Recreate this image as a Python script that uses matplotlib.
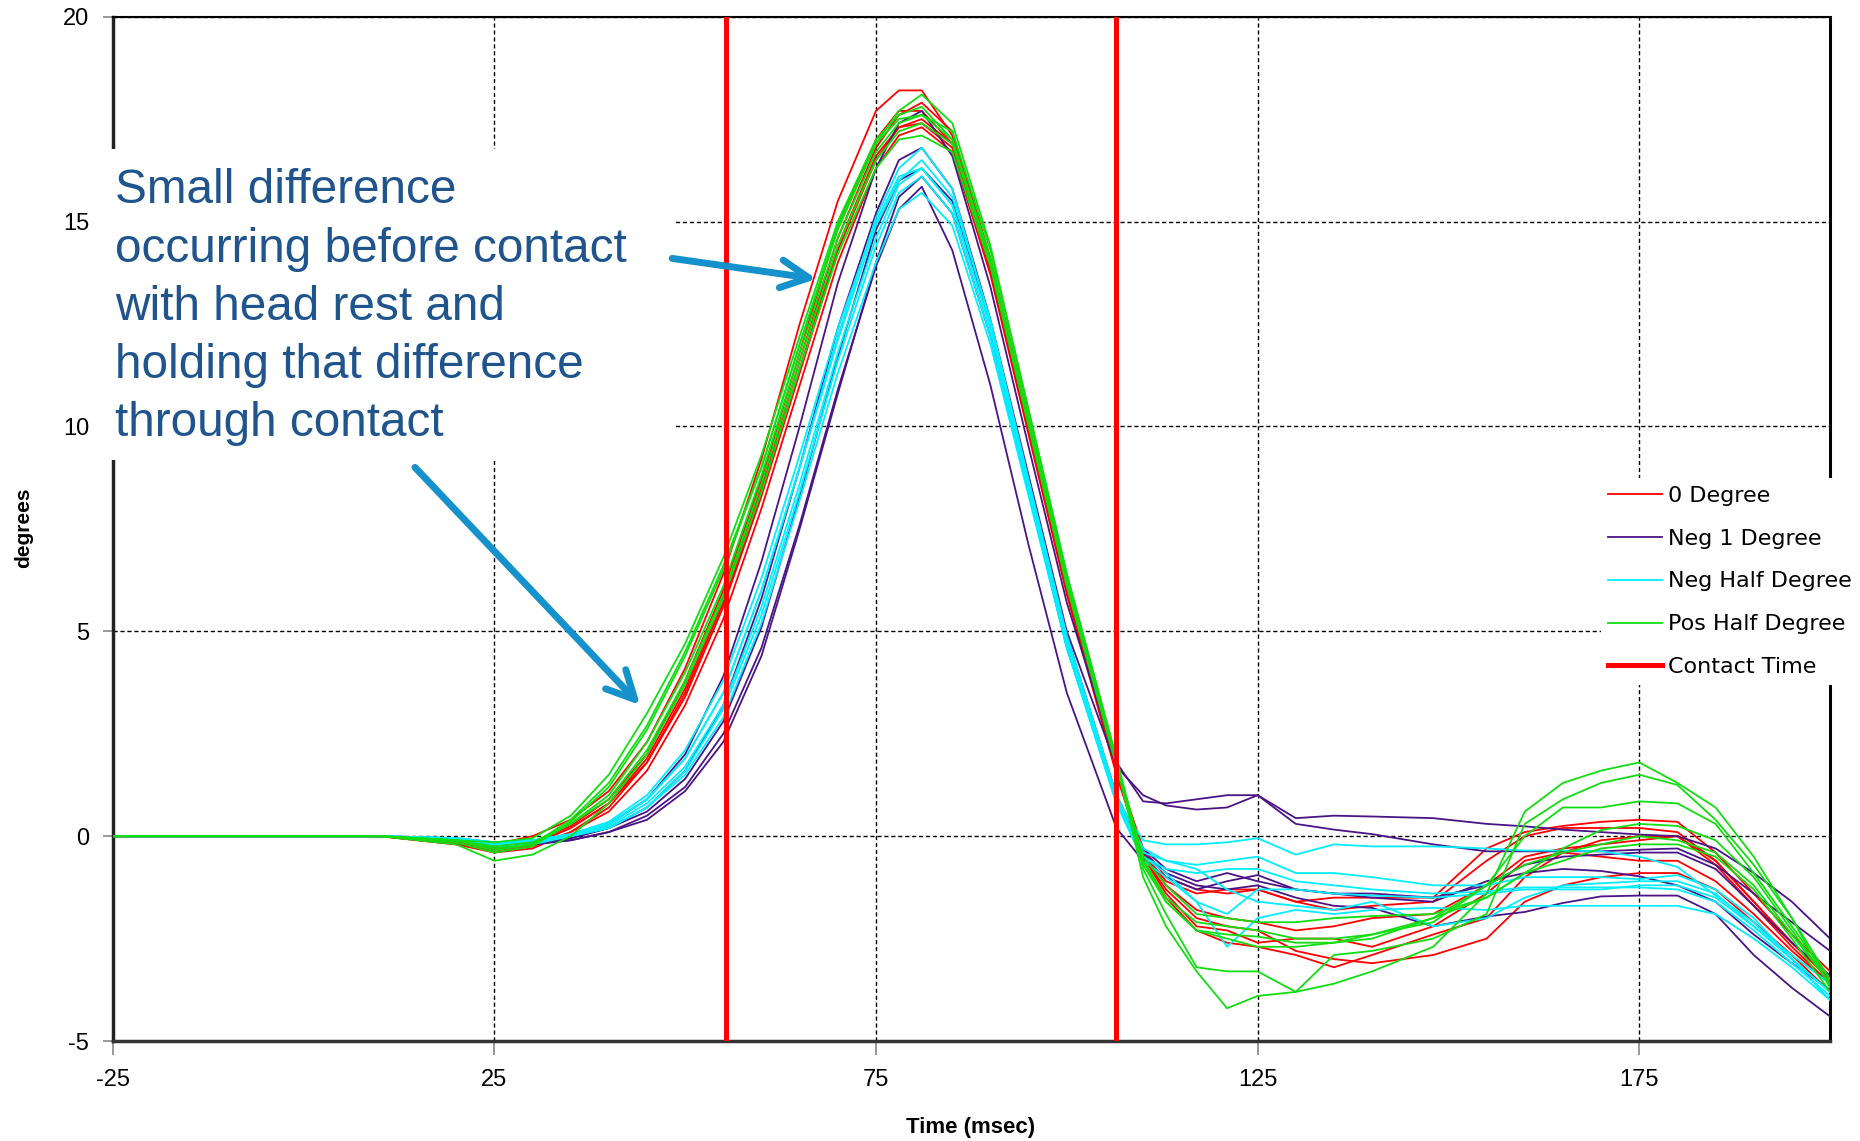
import matplotlib
matplotlib.use("Agg")
import matplotlib.pyplot as plt
from matplotlib.patches import Rectangle

plt.rcParams["axes.unicode_minus"] = False

# sample times (msec) shared by every run
time_ms = [-25, 10, 20, 25, 30, 35, 40, 45, 50, 55, 60, 65, 70, 75, 78, 81, 85, 90, 95, 100,
           106.5, 110, 113, 117, 121, 125, 130, 135, 140, 148, 155, 160, 165, 170, 175, 180,
           185, 190, 195, 200]

# head rotation (degrees) per run, grouped by seat angle
zero_deg = [
    [0, 0, -0.1, -0.2, 0.0, 0.4, 1.1, 2.3, 4.1, 6.4, 9.2, 12.5, 15.5, 17.7, 18.2, 18.2, 17.1, 13.9, 9.9, 6.0, 1.6,
     -0.3, -1.0, -1.3, -1.4, -1.3, -1.6, -1.5, -1.5, -1.5, -0.3, 0.1, 0.25, 0.35, 0.4, 0.35, -0.4, -1.4, -2.4, -3.3],
    [0, 0, -0.15, -0.3, -0.2, 0.2, 0.8, 1.9, 3.6, 5.8, 8.5, 11.6, 14.6, 16.8, 17.6, 17.9, 17.2, 14.1, 10.2, 6.2, 1.7,
     -0.4, -1.1, -1.4, -1.3, -1.3, -1.6, -1.8, -1.7, -1.6, -0.6, 0.0, 0.2, 0.2, 0.2, 0.1, -0.6, -1.6, -2.6, -3.5],
    [0, 0, -0.2, -0.35, -0.25, 0.1, 0.7, 1.8, 3.4, 5.6, 8.3, 11.3, 14.3, 16.5, 17.3, 17.5, 16.9, 13.9, 10.0, 6.1, 1.6,
     -0.6, -1.5, -2.3, -2.6, -2.7, -2.9, -3.2, -2.9, -2.4, -2.0, -1.0, -0.4, -0.1, 0.0, 0.0, -0.7, -1.7, -2.7, -3.6],
    [0, 0, -0.2, -0.4, -0.3, 0.1, 0.6, 1.6, 3.2, 5.3, 8.0, 11.0, 14.0, 16.3, 17.1, 17.3, 16.7, 13.7, 9.8, 5.9, 1.5,
     -0.5, -1.3, -2.0, -2.2, -2.3, -2.8, -3.0, -3.1, -2.9, -2.5, -1.6, -1.2, -1.0, -0.9, -0.9, -1.3, -2.1, -2.9, -3.8],
    [0, 0, -0.1, -0.25, -0.15, 0.25, 0.9, 2.0, 3.8, 6.0, 8.7, 11.8, 14.9, 17.0, 17.7, 17.7, 16.9, 13.8, 9.9, 6.0, 1.6,
     -0.4, -1.2, -1.8, -2.0, -2.1, -2.3, -2.2, -2.0, -1.9, -1.2, -0.5, -0.3, -0.2, -0.1, 0.0, -0.6, -1.6, -2.6, -3.5],
    [0, 0, -0.15, -0.3, -0.2, 0.2, 0.8, 1.8, 3.5, 5.7, 8.4, 11.4, 14.4, 16.6, 17.3, 17.4, 16.8, 13.9, 10.0, 6.1, 1.7,
     -0.5, -1.4, -2.2, -2.3, -2.6, -2.5, -2.5, -2.7, -2.2, -1.4, -0.6, -0.4, -0.5, -0.6, -0.6, -1.1, -1.9, -2.8, -3.6],
]

neg_one_deg = [
    [0, 0, -0.1, -0.2, -0.2, 0.0, 0.3, 0.9, 2.0, 3.9, 6.7, 10.0, 13.5, 16.3, 17.4, 17.7, 16.6, 13.4, 9.5, 5.7, 1.8,
     0.85, 0.8, 0.9, 1.0, 1.0, 0.44, 0.5, 0.48, 0.44, 0.3, 0.24, 0.16, 0.1, 0.04, 0.0, -0.3, -0.9, -1.6, -2.5],
    [0, 0, -0.1, -0.25, -0.2, -0.05, 0.2, 0.7, 1.6, 3.2, 5.8, 9.0, 12.4, 15.2, 16.5, 16.8, 15.8, 12.6, 8.8, 5.0, 1.7,
     1.0, 0.75, 0.65, 0.7, 1.0, 0.3, 0.16, 0.05, -0.2, -0.37, -0.37, -0.37, -0.37, -0.33, -0.3, -0.7, -1.4, -2.1, -2.8],
    [0, 0, -0.1, -0.2, -0.2, -0.1, 0.1, 0.5, 1.2, 2.5, 4.6, 7.6, 10.9, 13.9, 15.3, 15.85, 14.3, 11.0, 7.1, 3.5, 0.2,
     -0.6, -1.0, -1.3, -1.1, -0.95, -1.3, -1.4, -1.5, -1.6, -1.1, -0.9, -0.8, -0.85, -0.98, -1.2, -1.6, -2.4, -3.1, -3.75],
    [0, 0, -0.1, -0.2, -0.2, -0.1, 0.1, 0.4, 1.1, 2.3, 4.4, 7.5, 10.8, 14.0, 15.6, 16.1, 15.2, 12.2, 8.4, 4.6, 0.9,
     -0.4, -0.9, -1.2, -1.3, -1.2, -1.5, -1.7, -1.75, -2.2, -1.96, -1.85, -1.63, -1.47, -1.45, -1.45, -1.9, -2.9, -3.7, -4.4],
    [0, 0, -0.05, -0.15, -0.15, -0.05, 0.2, 0.6, 1.4, 2.8, 5.1, 8.3, 11.7, 14.8, 16.0, 16.3, 15.5, 12.5, 8.7, 4.9, 1.0,
     -0.3, -0.8, -1.1, -0.9, -1.1, -1.3, -1.4, -1.4, -1.5, -1.2, -0.7, -0.5, -0.45, -0.4, -0.4, -0.8, -1.7, -2.6, -3.4],
]

neg_half_deg = [
    [0, 0, -0.05, -0.15, -0.1, 0.05, 0.3, 0.9, 1.9, 3.5, 6.0, 9.0, 12.2, 15.1, 16.3, 16.8, 15.8, 12.5, 8.6, 4.7, 0.9,
     -0.1, -0.2, -0.2, -0.15, -0.05, -0.45, -0.2, -0.25, -0.25, -0.3, -0.35, -0.35, -0.37, -0.5, -0.75, -1.45, -2.1, -3.0, -3.8],
    [0, 0, -0.05, -0.2, -0.15, 0.0, 0.25, 0.8, 1.7, 3.2, 5.6, 8.6, 11.8, 14.6, 15.9, 16.3, 15.4, 12.4, 8.6, 4.8, 0.9,
     -0.4, -0.6, -0.7, -0.6, -0.5, -0.9, -0.9, -1.0, -1.2, -1.2, -1.0, -1.0, -1.0, -1.05, -0.95, -1.3, -2.0, -3.0, -4.0],
    [0, 0, -0.1, -0.2, -0.15, 0.0, 0.2, 0.7, 1.6, 3.1, 5.4, 8.4, 11.6, 14.4, 15.7, 16.1, 15.2, 12.2, 8.4, 4.6, 0.8,
     -0.5, -0.8, -0.9, -0.8, -0.8, -1.1, -1.2, -1.3, -1.4, -1.35, -1.25, -1.25, -1.25, -1.25, -1.3, -1.6, -2.3, -3.1, -3.9],
    [0, 0, -0.05, -0.15, -0.1, 0.0, 0.2, 0.7, 1.5, 2.9, 5.2, 8.2, 11.3, 14.0, 15.3, 15.7, 14.9, 12.0, 8.3, 4.6, 0.8,
     -0.6, -1.0, -1.6, -2.7, -2.0, -1.8, -1.9, -1.8, -1.75, -1.8, -1.7, -1.7, -1.7, -1.7, -1.7, -1.9, -2.5, -3.2, -4.0],
    [0, 0, -0.1, -0.25, -0.2, 0.0, 0.3, 0.9, 1.9, 3.5, 6.0, 9.0, 12.1, 14.9, 16.0, 16.5, 15.6, 12.6, 8.7, 4.9, 1.0,
     -0.3, -0.6, -0.8, -1.3, -1.6, -1.7, -1.8, -1.6, -2.2, -2.0, -1.5, -1.2, -1.15, -1.1, -1.1, -1.4, -2.2, -3.0, -3.8],
    [0, 0, -0.05, -0.15, -0.1, 0.05, 0.35, 1.0, 2.1, 3.8, 6.3, 9.3, 12.4, 15.0, 16.1, 16.3, 15.4, 12.4, 8.5, 4.7, 0.9,
     -0.5, -0.9, -1.6, -1.9, -1.3, -1.3, -1.4, -1.45, -1.5, -1.4, -1.3, -1.3, -1.3, -1.2, -1.2, -1.5, -2.2, -2.9, -3.6],
]

pos_half_deg = [
    [0, 0, -0.1, -0.15, -0.05, 0.5, 1.5, 3.0, 4.7, 6.8, 9.3, 12.2, 15.0, 17.0, 17.6, 17.8, 17.0, 14.0, 10.1, 6.2, 1.8,
     -1.0, -2.2, -3.3, -4.2, -3.9, -3.8, -3.6, -3.3, -2.7, -1.4, 0.6, 1.3, 1.6, 1.8, 1.3, 0.7, -0.5, -2.0, -3.7],
    [0, 0, -0.15, -0.4, -0.25, 0.35, 1.2, 2.6, 4.4, 6.5, 9.0, 12.0, 14.8, 16.9, 17.7, 18.1, 17.4, 14.4, 10.4, 6.4, 1.9,
     -0.8, -1.9, -3.2, -3.3, -3.3, -3.8, -2.9, -2.8, -2.5, -1.9, 0.3, 0.9, 1.3, 1.5, 1.25, 0.4, -0.7, -2.0, -3.5],
    [0, 0, -0.1, -0.3, -0.2, 0.3, 1.0, 2.3, 4.0, 6.1, 8.8, 11.8, 14.6, 16.7, 17.4, 17.6, 17.0, 14.1, 10.2, 6.3, 1.8,
     -0.6, -1.5, -2.1, -2.2, -2.3, -2.5, -2.5, -2.4, -2.1, -1.2, 0.0, 0.7, 0.7, 0.85, 0.8, 0.3, -0.9, -2.2, -3.5],
    [0, 0, -0.1, -0.25, -0.15, 0.3, 0.9, 2.1, 3.8, 5.9, 8.6, 11.6, 14.4, 16.5, 17.2, 17.4, 16.9, 14.0, 10.1, 6.2, 1.8,
     -0.5, -1.2, -1.9, -2.0, -2.1, -2.1, -2.0, -1.95, -1.9, -1.5, -0.9, -0.3, 0.15, 0.3, 0.25, -0.1, -1.0, -2.3, -3.6],
    [0, 0, -0.2, -0.6, -0.45, 0.0, 0.8, 2.0, 3.7, 5.8, 8.4, 11.4, 14.2, 16.3, 17.0, 17.1, 16.7, 13.9, 10.0, 6.1, 1.7,
     -0.7, -1.6, -2.3, -2.4, -2.45, -2.6, -2.6, -2.5, -2.0, -1.2, -0.7, -0.4, -0.2, 0.0, -0.1, -0.4, -1.2, -2.4, -3.6],
    [0, 0, -0.1, -0.35, -0.2, 0.4, 1.3, 2.7, 4.5, 6.6, 9.0, 12.0, 14.9, 16.9, 17.5, 17.6, 17.2, 14.3, 10.4, 6.4, 1.9,
     -0.6, -1.6, -2.3, -2.5, -2.7, -2.7, -2.6, -2.4, -2.0, -1.5, -0.9, -0.6, -0.3, -0.2, -0.2, -0.5, -1.3, -2.5, -3.8],
]

contact_times = [55.3, 106.5]

series = [
    ("0 Degree", "#FF0000", zero_deg),
    ("Neg 1 Degree", "#4A1486", neg_one_deg),
    ("Neg Half Degree", "#00EEFF", neg_half_deg),
    ("Pos Half Degree", "#11DD11", pos_half_deg),
]

fig = plt.figure(figsize=(18.6, 11.41), dpi=100)
ax = fig.add_axes([0.0606, 0.0876, 0.9233, 0.8978])

handles = []
for name, color, runs in series:
    for i, run in enumerate(runs):
        line, = ax.plot(time_ms, run, color=color, lw=1.3, zorder=3)
        if i == 0:
            line.set_label(name)
            handles.append(line)

for i, tc in enumerate(contact_times):
    cl = ax.axvline(tc, color="#FF0000", lw=3.6, zorder=4)
    if i == 0:
        cl.set_label("Contact Time")
        handles.append(cl)

ax.set_xlim(-25, 200)
ax.set_ylim(-5, 20)
ax.set_xticks([-25, 25, 75, 125, 175])
ax.set_yticks([-5, 0, 5, 10, 15, 20])
ax.set_axisbelow(True)
ax.grid(True, color="black", linestyle=(0, (3, 2)), lw=1.0)

for lbl in ax.get_xticklabels() + ax.get_yticklabels():
    lbl.set_family("Liberation Sans")
    lbl.set_fontsize(17)
ax.tick_params(axis="both", direction="out", color="#888888", width=1.2)
ax.tick_params(axis="y", length=7, pad=10)
ax.tick_params(axis="x", length=10, pad=10)

ax.spines["left"].set_linewidth(2.5)
ax.spines["left"].set_color("#222222")
ax.spines["bottom"].set_linewidth(2.5)
ax.spines["bottom"].set_color("#333333")
ax.spines["top"].set_linewidth(1.5)
ax.spines["right"].set_linewidth(2.2)

fig.text(971 / 1860, 1 - 1127 / 1141, "Time (msec)", ha="center", va="center",
         fontsize=16, fontweight="bold", family="Liberation Sans")
fig.text(24 / 1860, 1 - 528 / 1141, "degrees", ha="center", va="center", rotation=90,
         fontsize=15, fontweight="bold", family="Liberation Sans")

# white panel behind the callout text
ax.add_patch(Rectangle((-26.7, 9.18), 75.5, 7.6, facecolor="white", edgecolor="none",
                       clip_on=False, zorder=5))
ax.text(-24.7, 16.3,
        "Small difference\noccurring before contact\nwith head rest and\n"
        "holding that difference\nthrough contact",
        ha="left", va="top", fontsize=34.4, family="Liberation Sans", color="#1F548C",
        linespacing=1.38, zorder=6)

arrow_kw = dict(arrowstyle="->,head_length=2.0,head_width=1.0", lw=5, color="#1592CB",
                shrinkA=0, shrinkB=0, mutation_scale=10, capstyle="round")
ax.annotate("", xy=(67.2, 13.6), xytext=(48.3, 14.1), arrowprops=arrow_kw, zorder=7)
ax.annotate("", xy=(44.1, 3.2), xytext=(14.6, 9.0), arrowprops=arrow_kw, zorder=7)

leg = ax.legend(handles=handles, loc="upper left", bbox_to_anchor=(0.8605, 0.5812),
                bbox_transform=fig.transFigure, prop=dict(family="DejaVu Sans", size=16),
                frameon=True, fancybox=False, framealpha=1, facecolor="white", edgecolor="none",
                handlelength=2.4, handletextpad=0.3, labelspacing=1.03, borderpad=0.35,
                borderaxespad=0)
leg.set_zorder(8)

fig.savefig("out.png", dpi=100)
